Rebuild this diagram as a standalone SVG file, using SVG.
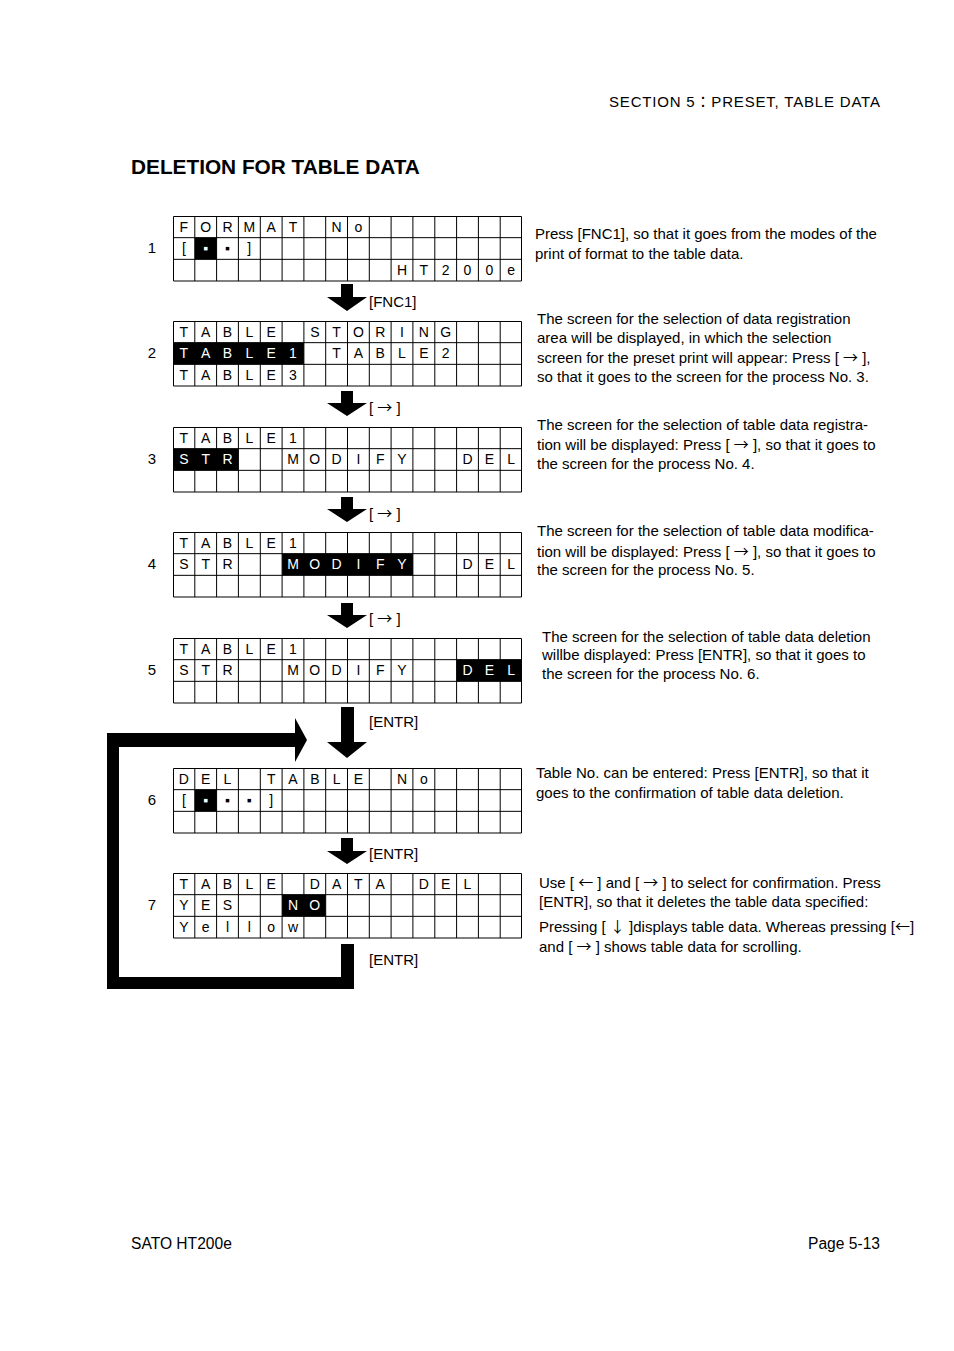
<svg xmlns="http://www.w3.org/2000/svg" xmlns:xlink="http://www.w3.org/1999/xlink" width="954" height="1351" viewBox="0 0 954 1351">
<style>
.t{font-family:"Liberation Sans",Arial,sans-serif;font-size:15px;fill:#000}
.f{font-family:"Liberation Sans",Arial,sans-serif;font-size:15.6px;fill:#000}
.d{font-family:"Liberation Sans",Arial,sans-serif;font-size:15px;fill:#000}
.h{font-family:"Liberation Sans",Arial,sans-serif;font-size:20.8px;font-weight:bold;fill:#000}
.n{font-family:"Liberation Sans",Arial,sans-serif;font-size:15px;fill:#000;text-anchor:middle}
.c{font-family:"Liberation Sans",Arial,sans-serif;font-size:14px;fill:#000;text-anchor:middle}
.j{font-family:"Noto Sans CJK JP","Noto Sans CJK SC",sans-serif}
.w{fill:#fff}
.g{fill:none;stroke:#000;stroke-width:1}
.k{fill:#000}
</style>
<defs>
<path id="grid" class="g" d="M173.5,0.5H521.5V65H173.5Z M173,21.67H522 M173,43.33H522 M194.8,0V65 M216.6,0V65 M238.4,0V65 M260.3,0V65 M282.1,0V65 M303.9,0V65 M325.7,0V65 M347.5,0V65 M369.3,0V65 M391.1,0V65 M412.9,0V65 M434.8,0V65 M456.6,0V65 M478.4,0V65 M500.2,0V65"/>
</defs>

<text class="t" x="609" y="107" textLength="271" lengthAdjust="spacing">SECTION 5<tspan class="j">：</tspan>PRESET, TABLE DATA</text>
<text class="h" x="131" y="174">DELETION FOR TABLE DATA</text>

<g id="screen1" transform="translate(0,216)">
<use xlink:href="#grid"/>
<rect class="k" x="194.8" y="21.67" width="21.8" height="21.67"/>
<text class="c" x="183.9 205.7 227.5 249.3 271.2 293.0" y="15.6">FORMAT</text>
<text class="c" x="336.6 358.4" y="15.6">No</text>
<text class="c" x="183.9" y="37.3">[</text>
<text class="c w" x="205.7" y="36.5" font-size="9">▪</text>
<text class="c" x="227.5" y="36.5" font-size="9">▪</text>
<text class="c" x="249.3" y="37.3">]</text>
<text class="c" x="402.0 423.8 445.7 467.5 489.3 511.1" y="59">HT200e</text>
</g>
<text class="n" x="152" y="253">1</text>

<g id="screen2" transform="translate(0,321)">
<use xlink:href="#grid"/>
<rect class="k" x="173" y="21.67" width="130.9" height="21.67"/>
<text class="c" x="183.9 205.7 227.5 249.3 271.2" y="15.6">TABLE</text>
<text class="c" x="314.8 336.6 358.4 380.2 402.0 423.8 445.7" y="15.6">STORING</text>
<text class="c w" x="183.9 205.7 227.5 249.3 271.2 293.0" y="37.3">TABLE1</text>
<text class="c" x="336.6 358.4 380.2 402.0 423.8 445.7" y="37.3">TABLE2</text>
<text class="c" x="183.9 205.7 227.5 249.3 271.2 293.0" y="59">TABLE3</text>
</g>
<text class="n" x="152" y="358">2</text>

<g id="screen3" transform="translate(0,427)">
<use xlink:href="#grid"/>
<rect class="k" x="173" y="21.67" width="65.4" height="21.67"/>
<text class="c" x="183.9 205.7 227.5 249.3 271.2 293.0" y="15.6">TABLE1</text>
<text class="c w" x="183.9 205.7 227.5" y="37.3">STR</text>
<text class="c" x="293.0 314.8 336.6 358.4 380.2 402.0" y="37.3">MODIFY</text>
<text class="c" x="467.5 489.3 511.1" y="37.3">DEL</text>
</g>
<text class="n" x="152" y="464">3</text>

<g id="screen4" transform="translate(0,532)">
<use xlink:href="#grid"/>
<rect class="k" x="282.1" y="21.67" width="130.8" height="21.67"/>
<text class="c" x="183.9 205.7 227.5 249.3 271.2 293.0" y="15.6">TABLE1</text>
<text class="c" x="183.9 205.7 227.5" y="37.3">STR</text>
<text class="c w" x="293.0 314.8 336.6 358.4 380.2 402.0" y="37.3">MODIFY</text>
<text class="c" x="467.5 489.3 511.1" y="37.3">DEL</text>
</g>
<text class="n" x="152" y="569">4</text>

<g id="screen5" transform="translate(0,638)">
<use xlink:href="#grid"/>
<rect class="k" x="456.6" y="21.67" width="65.4" height="21.67"/>
<text class="c" x="183.9 205.7 227.5 249.3 271.2 293.0" y="15.6">TABLE1</text>
<text class="c" x="183.9 205.7 227.5" y="37.3">STR</text>
<text class="c" x="293.0 314.8 336.6 358.4 380.2 402.0" y="37.3">MODIFY</text>
<text class="c w" x="467.5 489.3 511.1" y="37.3">DEL</text>
</g>
<text class="n" x="152" y="675">5</text>

<g id="screen6" transform="translate(0,768)">
<use xlink:href="#grid"/>
<rect class="k" x="194.8" y="21.67" width="21.8" height="21.67"/>
<text class="c" x="183.9 205.7 227.5" y="15.6">DEL</text>
<text class="c" x="271.2 293.0 314.8 336.6 358.4" y="15.6">TABLE</text>
<text class="c" x="402.0 423.8" y="15.6">No</text>
<text class="c" x="183.9" y="37.3">[</text>
<text class="c w" x="205.7" y="36.5" font-size="9">▪</text>
<text class="c" x="227.5" y="36.5" font-size="9">▪</text>
<text class="c" x="249.3" y="36.5" font-size="9">▪</text>
<text class="c" x="271.2" y="37.3">]</text>
</g>
<text class="n" x="152" y="805">6</text>

<g id="screen7" transform="translate(0,873)">
<use xlink:href="#grid"/>
<rect class="k" x="282.1" y="21.67" width="43.6" height="21.67"/>
<text class="c" x="183.9 205.7 227.5 249.3 271.2" y="15.6">TABLE</text>
<text class="c" x="314.8 336.6 358.4 380.2" y="15.6">DATA</text>
<text class="c" x="423.8 445.7 467.5" y="15.6">DEL</text>
<text class="c" x="183.9 205.7 227.5" y="37.3">YES</text>
<text class="c w" x="293.0 314.8" y="37.3">NO</text>
<text class="c" x="183.9 205.7 227.5 249.3 271.2 293.0" y="59">Yellow</text>
</g>
<text class="n" x="152" y="910">7</text>

<g id="connectors">
<polygon class="k" points="341,284 353,284 353,297 367,297 347,311 327,297 341,297"/>
<polygon class="k" points="341,391 353,391 353,403 367,403 347,416 327,403 341,403"/>
<polygon class="k" points="341,497 353,497 353,509 367,509 347,522 327,509 341,509"/>
<polygon class="k" points="341,603 353,603 353,615 367,615 347,628 327,615 341,615"/>
<polygon class="k" points="341,707 354,707 354,742 367,742 347,758 327,742 341,742"/>
<polygon class="k" points="341,838 353,838 353,851 367,851 347,864 327,851 341,851"/>
<polygon class="k" points="107,989 107,733 295,733 295,718 307,740 295,762 295,747 119,747 119,977 341,977 341,944 354,944 354,989"/>
<text class="t" x="369" y="307">[FNC1]</text>
<text class="t" x="369" y="413">[ <tspan class="j">→</tspan> ]</text>
<text class="t" x="369" y="519">[ <tspan class="j">→</tspan> ]</text>
<text class="t" x="369" y="624">[ <tspan class="j">→</tspan> ]</text>
<text class="t" x="369" y="727">[ENTR]</text>
<text class="t" x="369" y="859">[ENTR]</text>
<text class="t" x="369" y="965">[ENTR]</text>
</g>

<g id="desc">
<text class="d" x="535" y="239">Press [FNC1], so that it goes from the modes of the</text>
<text class="d" x="535" y="259">print of format to the table data.</text>
<text class="d" x="537" y="324">The screen for the selection of data registration</text>
<text class="d" x="537" y="343">area will be displayed, in which the selection</text>
<text class="d" x="537" y="363">screen for the preset print will appear: Press [ <tspan class="j">→</tspan> ],</text>
<text class="d" x="537" y="382">so that it goes to the screen for the process No. 3.</text>
<text class="d" x="537" y="430">The screen for the selection of table data registra-</text>
<text class="d" x="537" y="450">tion will be displayed: Press [ <tspan class="j">→</tspan> ], so that it goes to</text>
<text class="d" x="537" y="469">the screen for the process No. 4.</text>
<text class="d" x="537" y="536">The screen for the selection of table data modifica-</text>
<text class="d" x="537" y="557">tion will be displayed: Press [ <tspan class="j">→</tspan> ], so that it goes to</text>
<text class="d" x="537" y="575">the screen for the process No. 5.</text>
<text class="d" x="542" y="642">The screen for the selection of table data deletion</text>
<text class="d" x="542" y="660">willbe displayed: Press [ENTR], so that it goes to</text>
<text class="d" x="542" y="679">the screen for the process No. 6.</text>
<text class="d" x="536" y="778">Table No. can be entered: Press [ENTR], so that it</text>
<text class="d" x="536" y="798">goes to the confirmation of table data deletion.</text>
<text class="d" x="539" y="888">Use [ <tspan class="j">←</tspan> ] and [ <tspan class="j">→</tspan> ] to select for confirmation. Press</text>
<text class="d" x="539" y="907">[ENTR], so that it deletes the table data specified:</text>
<text class="d" x="539" y="932">Pressing [ <tspan class="j">↓</tspan> ]displays table data. Whereas pressing [<tspan class="j">←</tspan>]</text>
<text class="d" x="539" y="952">and [ <tspan class="j">→</tspan> ] shows table data for scrolling.</text>
</g>

<text class="f" x="131" y="1249">SATO HT200e</text>
<text class="f" x="880" y="1249" text-anchor="end">Page 5-13</text>
</svg>
